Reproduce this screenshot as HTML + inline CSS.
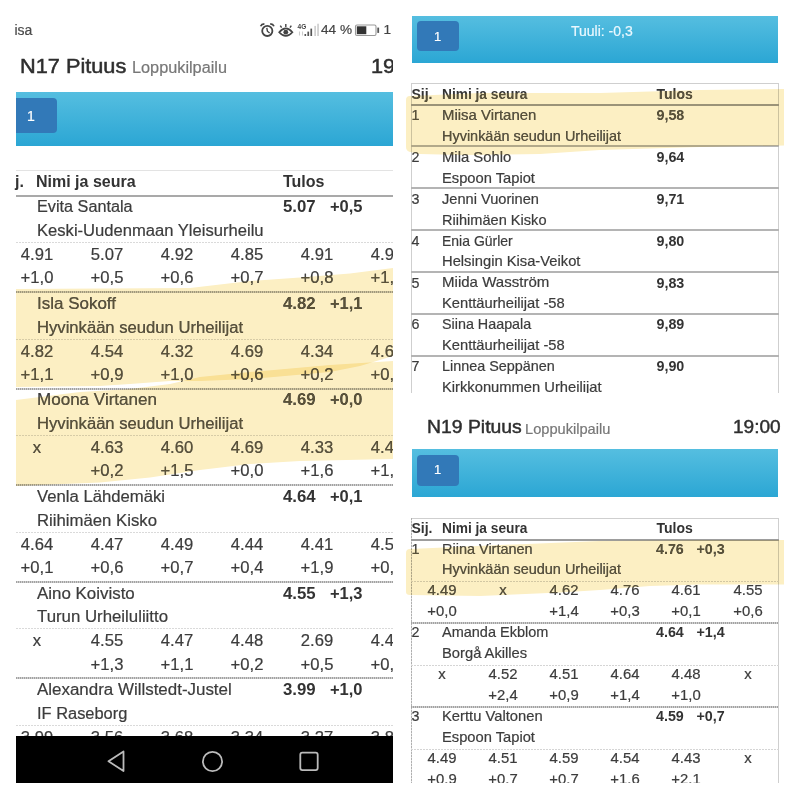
<!DOCTYPE html>
<html><head><meta charset="utf-8"><style>
html,body{margin:0;padding:0;background:#fff;}
body{width:800px;height:800px;position:relative;overflow:hidden;font-family:"Liberation Sans",sans-serif;color:#3c3c3c;}
.t{position:absolute;white-space:nowrap;line-height:1;transform-origin:0 0;-webkit-text-stroke:0.2px currentColor;}
.r{position:absolute;}
.clip{position:absolute;overflow:hidden;}
.hl{left:0;top:0;mix-blend-mode:multiply;pointer-events:none;}
.hl2{left:0;top:0;mix-blend-mode:lighten;pointer-events:none;}
</style></head><body>
<div class="clip" style="left:0px;top:0px;width:393px;height:783px;"><div style="position:absolute;left:0px;top:0px;width:800px;height:800px;">
<div class="t" style="left:14.50px;top:23.10px;font-size:14px;color:#4a4a4a;">isa</div>
<div class="t" style="left:321.00px;top:22.74px;font-size:13.6px;color:#444;">44 %</div>
<div class="t" style="left:383.50px;top:22.74px;font-size:13.6px;color:#444;">1</div>
<svg class="r" style="left:255px;top:18px" width="130" height="22" viewBox="255 18 130 22">
<circle cx="267.3" cy="30.9" r="5.1" fill="none" stroke="#444" stroke-width="1.8"/>
<path d="M266.8 27.8 L267.4 31.2 L269.6 33" fill="none" stroke="#444" stroke-width="1.4"/>
<path d="M260.6 26.2 Q261.5 24 264.4 23.8" fill="none" stroke="#444" stroke-width="1.7"/>
<path d="M274 26.2 Q273.1 24 270.2 23.8" fill="none" stroke="#444" stroke-width="1.7"/>
<path d="M279.2 32.2 Q285.8 24.6 292.4 32.2 Q285.8 39.6 279.2 32.2 Z" fill="none" stroke="#444" stroke-width="1.7"/>
<circle cx="285.8" cy="32.2" r="2.4" fill="#444"/>
<path d="M285.8 24 V27 M280.3 25.6 L281.6 27.6 M291.3 25.6 L290 27.6" stroke="#444" stroke-width="1.4"/>
<text x="297.6" y="28.6" font-family="Liberation Sans" font-weight="700" font-size="6.5" fill="#444">4G</text>
<path d="M299.5 31.5 V35.5 M302.5 31.5 V35.5" stroke="#ccc" stroke-width="1.1"/>
<rect x="304.5" y="34" width="1.6" height="2" fill="#555"/>
<rect x="307.4" y="31.6" width="1.7" height="4.4" fill="#555"/>
<rect x="310.4" y="28.6" width="1.7" height="7.4" fill="#555"/>
<rect x="314.3" y="25.9" width="1.7" height="10.1" fill="#cfcfcf"/>
<rect x="317.2" y="23.7" width="1.7" height="12.3" fill="#cfcfcf"/>
<rect x="355.5" y="25" width="20.5" height="10.5" rx="1.5" fill="none" stroke="#999" stroke-width="1.1"/>
<rect x="356.8" y="26.3" width="9.5" height="7.9" fill="#333"/>
<rect x="377.3" y="27.6" width="1.8" height="5.3" fill="#555"/>
</svg>
<div class="t" style="left:19.80px;top:56.08px;font-size:20.5px;color:#2e2e2e;transform:scaleX(1.06);-webkit-text-stroke:0.5px #2e2e2e;">N17 Pituus</div>
<div class="t" style="left:132.00px;top:60.27px;font-size:15.8px;color:#777;transform:scaleX(1.03);">Loppukilpailu</div>
<div class="t" style="left:371.00px;top:56.08px;font-size:20.5px;color:#2e2e2e;transform:scaleX(1.06);-webkit-text-stroke:0.5px #2e2e2e;">19</div>
<div class="r" style="left:16.00px;top:91.50px;width:377.00px;height:54.50px;background:linear-gradient(#55bee0,#2ba6d4);"></div>
<div class="r" style="left:16.00px;top:97.50px;width:41.00px;height:35.50px;background:#3279b8;border-radius:0 4px 4px 0;"></div>
<div class="t" style="left:27.00px;top:108.70px;font-size:14px;color:#fff;">1</div>
<div class="r" style="left:16.00px;top:169.50px;width:377.00px;height:0;border-top:1px solid #e3e3e3;"></div>
<div class="t" style="left:15.00px;top:174.40px;font-size:16px;font-weight:700;-webkit-text-stroke:0;color:#333;">j.</div>
<div class="t" style="left:36.00px;top:174.40px;font-size:16px;font-weight:700;-webkit-text-stroke:0;color:#333;">Nimi ja seura</div>
<div class="t" style="left:283.00px;top:174.40px;font-size:16px;font-weight:700;-webkit-text-stroke:0;color:#333;">Tulos</div>
<div class="r" style="left:16.00px;top:194.50px;width:377.00px;height:0;border-top:2px solid #a9a9a9;"></div>
<div class="t" style="left:36.50px;top:199.10px;font-size:16px;color:#3c3c3c;transform:scaleX(1.014);">Evita Santala</div>
<div class="t" style="left:36.50px;top:222.90px;font-size:16px;color:#3c3c3c;transform:scaleX(1.037);">Keski-Uudenmaan Yleisurheilu</div>
<div class="t" style="left:283.00px;top:199.10px;font-size:16px;font-weight:700;-webkit-text-stroke:0;color:#333;transform:scaleX(1.05);">5.07</div>
<div class="t" style="left:329.50px;top:199.10px;font-size:16px;font-weight:700;-webkit-text-stroke:0;color:#333;transform:scaleX(1.03);">+0,5</div>
<div class="r" style="left:16.00px;top:242.00px;width:377.00px;height:1.00px;background:repeating-linear-gradient(90deg,#dadada 0 2px,transparent 2px 3px);"></div>
<div class="t" style="left:-13.50px;top:246.90px;width:100px;text-align:center;font-size:16px;transform:scaleX(1.04);transform-origin:50% 0;">4.91</div>
<div class="t" style="left:-13.50px;top:270.20px;width:100px;text-align:center;font-size:16px;transform:scaleX(1.04);transform-origin:50% 0;">+1,0</div>
<div class="t" style="left:56.50px;top:246.90px;width:100px;text-align:center;font-size:16px;transform:scaleX(1.04);transform-origin:50% 0;">5.07</div>
<div class="t" style="left:56.50px;top:270.20px;width:100px;text-align:center;font-size:16px;transform:scaleX(1.04);transform-origin:50% 0;">+0,5</div>
<div class="t" style="left:126.50px;top:246.90px;width:100px;text-align:center;font-size:16px;transform:scaleX(1.04);transform-origin:50% 0;">4.92</div>
<div class="t" style="left:126.50px;top:270.20px;width:100px;text-align:center;font-size:16px;transform:scaleX(1.04);transform-origin:50% 0;">+0,6</div>
<div class="t" style="left:196.50px;top:246.90px;width:100px;text-align:center;font-size:16px;transform:scaleX(1.04);transform-origin:50% 0;">4.85</div>
<div class="t" style="left:196.50px;top:270.20px;width:100px;text-align:center;font-size:16px;transform:scaleX(1.04);transform-origin:50% 0;">+0,7</div>
<div class="t" style="left:266.50px;top:246.90px;width:100px;text-align:center;font-size:16px;transform:scaleX(1.04);transform-origin:50% 0;">4.91</div>
<div class="t" style="left:266.50px;top:270.20px;width:100px;text-align:center;font-size:16px;transform:scaleX(1.04);transform-origin:50% 0;">+0,8</div>
<div class="t" style="left:336.50px;top:246.90px;width:100px;text-align:center;font-size:16px;transform:scaleX(1.04);transform-origin:50% 0;">4.91</div>
<div class="t" style="left:336.50px;top:270.20px;width:100px;text-align:center;font-size:16px;transform:scaleX(1.04);transform-origin:50% 0;">+1,0</div>
<div class="r" style="left:16.00px;top:291.00px;width:377.00px;height:2.00px;background:repeating-linear-gradient(90deg,#a2a2a2 0 1px,#cfcfcf 1px 2px);"></div>
<div class="t" style="left:36.50px;top:295.70px;font-size:16px;color:#3c3c3c;transform:scaleX(1.061);">Isla Sokoff</div>
<div class="t" style="left:36.50px;top:319.50px;font-size:16px;color:#3c3c3c;transform:scaleX(1.039);">Hyvinkään seudun Urheilijat</div>
<div class="t" style="left:283.00px;top:295.70px;font-size:16px;font-weight:700;-webkit-text-stroke:0;color:#333;transform:scaleX(1.05);">4.82</div>
<div class="t" style="left:329.50px;top:295.70px;font-size:16px;font-weight:700;-webkit-text-stroke:0;color:#333;transform:scaleX(1.03);">+1,1</div>
<div class="r" style="left:16.00px;top:338.60px;width:377.00px;height:1.00px;background:repeating-linear-gradient(90deg,#dadada 0 2px,transparent 2px 3px);"></div>
<div class="t" style="left:-13.50px;top:343.50px;width:100px;text-align:center;font-size:16px;transform:scaleX(1.04);transform-origin:50% 0;">4.82</div>
<div class="t" style="left:-13.50px;top:366.80px;width:100px;text-align:center;font-size:16px;transform:scaleX(1.04);transform-origin:50% 0;">+1,1</div>
<div class="t" style="left:56.50px;top:343.50px;width:100px;text-align:center;font-size:16px;transform:scaleX(1.04);transform-origin:50% 0;">4.54</div>
<div class="t" style="left:56.50px;top:366.80px;width:100px;text-align:center;font-size:16px;transform:scaleX(1.04);transform-origin:50% 0;">+0,9</div>
<div class="t" style="left:126.50px;top:343.50px;width:100px;text-align:center;font-size:16px;transform:scaleX(1.04);transform-origin:50% 0;">4.32</div>
<div class="t" style="left:126.50px;top:366.80px;width:100px;text-align:center;font-size:16px;transform:scaleX(1.04);transform-origin:50% 0;">+1,0</div>
<div class="t" style="left:196.50px;top:343.50px;width:100px;text-align:center;font-size:16px;transform:scaleX(1.04);transform-origin:50% 0;">4.69</div>
<div class="t" style="left:196.50px;top:366.80px;width:100px;text-align:center;font-size:16px;transform:scaleX(1.04);transform-origin:50% 0;">+0,6</div>
<div class="t" style="left:266.50px;top:343.50px;width:100px;text-align:center;font-size:16px;transform:scaleX(1.04);transform-origin:50% 0;">4.34</div>
<div class="t" style="left:266.50px;top:366.80px;width:100px;text-align:center;font-size:16px;transform:scaleX(1.04);transform-origin:50% 0;">+0,2</div>
<div class="t" style="left:336.50px;top:343.50px;width:100px;text-align:center;font-size:16px;transform:scaleX(1.04);transform-origin:50% 0;">4.69</div>
<div class="t" style="left:336.50px;top:366.80px;width:100px;text-align:center;font-size:16px;transform:scaleX(1.04);transform-origin:50% 0;">+0,2</div>
<div class="r" style="left:16.00px;top:387.60px;width:377.00px;height:2.00px;background:repeating-linear-gradient(90deg,#a2a2a2 0 1px,#cfcfcf 1px 2px);"></div>
<div class="t" style="left:36.50px;top:392.30px;font-size:16px;color:#3c3c3c;transform:scaleX(1.065);">Moona Virtanen</div>
<div class="t" style="left:36.50px;top:416.10px;font-size:16px;color:#3c3c3c;transform:scaleX(1.039);">Hyvinkään seudun Urheilijat</div>
<div class="t" style="left:283.00px;top:392.30px;font-size:16px;font-weight:700;-webkit-text-stroke:0;color:#333;transform:scaleX(1.05);">4.69</div>
<div class="t" style="left:329.50px;top:392.30px;font-size:16px;font-weight:700;-webkit-text-stroke:0;color:#333;transform:scaleX(1.03);">+0,0</div>
<div class="r" style="left:16.00px;top:435.20px;width:377.00px;height:1.00px;background:repeating-linear-gradient(90deg,#dadada 0 2px,transparent 2px 3px);"></div>
<div class="t" style="left:-13.50px;top:440.10px;width:100px;text-align:center;font-size:16px;transform:scaleX(1.04);transform-origin:50% 0;">x</div>
<div class="t" style="left:-13.50px;top:463.40px;width:100px;text-align:center;font-size:16px;transform:scaleX(1.04);transform-origin:50% 0;"></div>
<div class="t" style="left:56.50px;top:440.10px;width:100px;text-align:center;font-size:16px;transform:scaleX(1.04);transform-origin:50% 0;">4.63</div>
<div class="t" style="left:56.50px;top:463.40px;width:100px;text-align:center;font-size:16px;transform:scaleX(1.04);transform-origin:50% 0;">+0,2</div>
<div class="t" style="left:126.50px;top:440.10px;width:100px;text-align:center;font-size:16px;transform:scaleX(1.04);transform-origin:50% 0;">4.60</div>
<div class="t" style="left:126.50px;top:463.40px;width:100px;text-align:center;font-size:16px;transform:scaleX(1.04);transform-origin:50% 0;">+1,5</div>
<div class="t" style="left:196.50px;top:440.10px;width:100px;text-align:center;font-size:16px;transform:scaleX(1.04);transform-origin:50% 0;">4.69</div>
<div class="t" style="left:196.50px;top:463.40px;width:100px;text-align:center;font-size:16px;transform:scaleX(1.04);transform-origin:50% 0;">+0,0</div>
<div class="t" style="left:266.50px;top:440.10px;width:100px;text-align:center;font-size:16px;transform:scaleX(1.04);transform-origin:50% 0;">4.33</div>
<div class="t" style="left:266.50px;top:463.40px;width:100px;text-align:center;font-size:16px;transform:scaleX(1.04);transform-origin:50% 0;">+1,6</div>
<div class="t" style="left:336.50px;top:440.10px;width:100px;text-align:center;font-size:16px;transform:scaleX(1.04);transform-origin:50% 0;">4.45</div>
<div class="t" style="left:336.50px;top:463.40px;width:100px;text-align:center;font-size:16px;transform:scaleX(1.04);transform-origin:50% 0;">+1,2</div>
<div class="r" style="left:16.00px;top:484.20px;width:377.00px;height:2.00px;background:repeating-linear-gradient(90deg,#a2a2a2 0 1px,#cfcfcf 1px 2px);"></div>
<div class="t" style="left:36.50px;top:488.90px;font-size:16px;color:#3c3c3c;transform:scaleX(1.043);">Venla Lähdemäki</div>
<div class="t" style="left:36.50px;top:512.70px;font-size:16px;color:#3c3c3c;transform:scaleX(1.046);">Riihimäen Kisko</div>
<div class="t" style="left:283.00px;top:488.90px;font-size:16px;font-weight:700;-webkit-text-stroke:0;color:#333;transform:scaleX(1.05);">4.64</div>
<div class="t" style="left:329.50px;top:488.90px;font-size:16px;font-weight:700;-webkit-text-stroke:0;color:#333;transform:scaleX(1.03);">+0,1</div>
<div class="r" style="left:16.00px;top:531.80px;width:377.00px;height:1.00px;background:repeating-linear-gradient(90deg,#dadada 0 2px,transparent 2px 3px);"></div>
<div class="t" style="left:-13.50px;top:536.70px;width:100px;text-align:center;font-size:16px;transform:scaleX(1.04);transform-origin:50% 0;">4.64</div>
<div class="t" style="left:-13.50px;top:560.00px;width:100px;text-align:center;font-size:16px;transform:scaleX(1.04);transform-origin:50% 0;">+0,1</div>
<div class="t" style="left:56.50px;top:536.70px;width:100px;text-align:center;font-size:16px;transform:scaleX(1.04);transform-origin:50% 0;">4.47</div>
<div class="t" style="left:56.50px;top:560.00px;width:100px;text-align:center;font-size:16px;transform:scaleX(1.04);transform-origin:50% 0;">+0,6</div>
<div class="t" style="left:126.50px;top:536.70px;width:100px;text-align:center;font-size:16px;transform:scaleX(1.04);transform-origin:50% 0;">4.49</div>
<div class="t" style="left:126.50px;top:560.00px;width:100px;text-align:center;font-size:16px;transform:scaleX(1.04);transform-origin:50% 0;">+0,7</div>
<div class="t" style="left:196.50px;top:536.70px;width:100px;text-align:center;font-size:16px;transform:scaleX(1.04);transform-origin:50% 0;">4.44</div>
<div class="t" style="left:196.50px;top:560.00px;width:100px;text-align:center;font-size:16px;transform:scaleX(1.04);transform-origin:50% 0;">+0,4</div>
<div class="t" style="left:266.50px;top:536.70px;width:100px;text-align:center;font-size:16px;transform:scaleX(1.04);transform-origin:50% 0;">4.41</div>
<div class="t" style="left:266.50px;top:560.00px;width:100px;text-align:center;font-size:16px;transform:scaleX(1.04);transform-origin:50% 0;">+1,9</div>
<div class="t" style="left:336.50px;top:536.70px;width:100px;text-align:center;font-size:16px;transform:scaleX(1.04);transform-origin:50% 0;">4.52</div>
<div class="t" style="left:336.50px;top:560.00px;width:100px;text-align:center;font-size:16px;transform:scaleX(1.04);transform-origin:50% 0;">+0,3</div>
<div class="r" style="left:16.00px;top:580.80px;width:377.00px;height:2.00px;background:repeating-linear-gradient(90deg,#a2a2a2 0 1px,#cfcfcf 1px 2px);"></div>
<div class="t" style="left:36.50px;top:585.50px;font-size:16px;color:#3c3c3c;transform:scaleX(1.057);">Aino Koivisto</div>
<div class="t" style="left:36.50px;top:609.30px;font-size:16px;color:#3c3c3c;transform:scaleX(1.05);">Turun Urheiluliitto</div>
<div class="t" style="left:283.00px;top:585.50px;font-size:16px;font-weight:700;-webkit-text-stroke:0;color:#333;transform:scaleX(1.05);">4.55</div>
<div class="t" style="left:329.50px;top:585.50px;font-size:16px;font-weight:700;-webkit-text-stroke:0;color:#333;transform:scaleX(1.03);">+1,3</div>
<div class="r" style="left:16.00px;top:628.40px;width:377.00px;height:1.00px;background:repeating-linear-gradient(90deg,#dadada 0 2px,transparent 2px 3px);"></div>
<div class="t" style="left:-13.50px;top:633.30px;width:100px;text-align:center;font-size:16px;transform:scaleX(1.04);transform-origin:50% 0;">x</div>
<div class="t" style="left:-13.50px;top:656.60px;width:100px;text-align:center;font-size:16px;transform:scaleX(1.04);transform-origin:50% 0;"></div>
<div class="t" style="left:56.50px;top:633.30px;width:100px;text-align:center;font-size:16px;transform:scaleX(1.04);transform-origin:50% 0;">4.55</div>
<div class="t" style="left:56.50px;top:656.60px;width:100px;text-align:center;font-size:16px;transform:scaleX(1.04);transform-origin:50% 0;">+1,3</div>
<div class="t" style="left:126.50px;top:633.30px;width:100px;text-align:center;font-size:16px;transform:scaleX(1.04);transform-origin:50% 0;">4.47</div>
<div class="t" style="left:126.50px;top:656.60px;width:100px;text-align:center;font-size:16px;transform:scaleX(1.04);transform-origin:50% 0;">+1,1</div>
<div class="t" style="left:196.50px;top:633.30px;width:100px;text-align:center;font-size:16px;transform:scaleX(1.04);transform-origin:50% 0;">4.48</div>
<div class="t" style="left:196.50px;top:656.60px;width:100px;text-align:center;font-size:16px;transform:scaleX(1.04);transform-origin:50% 0;">+0,2</div>
<div class="t" style="left:266.50px;top:633.30px;width:100px;text-align:center;font-size:16px;transform:scaleX(1.04);transform-origin:50% 0;">2.69</div>
<div class="t" style="left:266.50px;top:656.60px;width:100px;text-align:center;font-size:16px;transform:scaleX(1.04);transform-origin:50% 0;">+0,5</div>
<div class="t" style="left:336.50px;top:633.30px;width:100px;text-align:center;font-size:16px;transform:scaleX(1.04);transform-origin:50% 0;">4.40</div>
<div class="t" style="left:336.50px;top:656.60px;width:100px;text-align:center;font-size:16px;transform:scaleX(1.04);transform-origin:50% 0;">+0,4</div>
<div class="r" style="left:16.00px;top:677.40px;width:377.00px;height:2.00px;background:repeating-linear-gradient(90deg,#a2a2a2 0 1px,#cfcfcf 1px 2px);"></div>
<div class="t" style="left:36.50px;top:682.10px;font-size:16px;color:#3c3c3c;transform:scaleX(1.058);">Alexandra Willstedt-Justel</div>
<div class="t" style="left:36.50px;top:705.90px;font-size:16px;color:#3c3c3c;transform:scaleX(1.026);">IF Raseborg</div>
<div class="t" style="left:283.00px;top:682.10px;font-size:16px;font-weight:700;-webkit-text-stroke:0;color:#333;transform:scaleX(1.05);">3.99</div>
<div class="t" style="left:329.50px;top:682.10px;font-size:16px;font-weight:700;-webkit-text-stroke:0;color:#333;transform:scaleX(1.03);">+1,0</div>
<div class="r" style="left:16.00px;top:725.00px;width:377.00px;height:1.00px;background:repeating-linear-gradient(90deg,#dadada 0 2px,transparent 2px 3px);"></div>
<div class="t" style="left:-13.50px;top:729.90px;width:100px;text-align:center;font-size:16px;transform:scaleX(1.04);transform-origin:50% 0;">3.99</div>
<div class="t" style="left:-13.50px;top:753.20px;width:100px;text-align:center;font-size:16px;transform:scaleX(1.04);transform-origin:50% 0;">+1,0</div>
<div class="t" style="left:56.50px;top:729.90px;width:100px;text-align:center;font-size:16px;transform:scaleX(1.04);transform-origin:50% 0;">3.56</div>
<div class="t" style="left:56.50px;top:753.20px;width:100px;text-align:center;font-size:16px;transform:scaleX(1.04);transform-origin:50% 0;">+0,5</div>
<div class="t" style="left:126.50px;top:729.90px;width:100px;text-align:center;font-size:16px;transform:scaleX(1.04);transform-origin:50% 0;">3.68</div>
<div class="t" style="left:126.50px;top:753.20px;width:100px;text-align:center;font-size:16px;transform:scaleX(1.04);transform-origin:50% 0;">+0,6</div>
<div class="t" style="left:196.50px;top:729.90px;width:100px;text-align:center;font-size:16px;transform:scaleX(1.04);transform-origin:50% 0;">3.34</div>
<div class="t" style="left:196.50px;top:753.20px;width:100px;text-align:center;font-size:16px;transform:scaleX(1.04);transform-origin:50% 0;">+0,7</div>
<div class="t" style="left:266.50px;top:729.90px;width:100px;text-align:center;font-size:16px;transform:scaleX(1.04);transform-origin:50% 0;">3.27</div>
<div class="t" style="left:266.50px;top:753.20px;width:100px;text-align:center;font-size:16px;transform:scaleX(1.04);transform-origin:50% 0;">+0,8</div>
<div class="t" style="left:336.50px;top:729.90px;width:100px;text-align:center;font-size:16px;transform:scaleX(1.04);transform-origin:50% 0;">3.80</div>
<div class="t" style="left:336.50px;top:753.20px;width:100px;text-align:center;font-size:16px;transform:scaleX(1.04);transform-origin:50% 0;">+1,0</div>
<div class="r" style="left:16.00px;top:736.00px;width:377.00px;height:47.00px;background:#000;"></div>
<svg class="r" style="left:16px;top:736px" width="377" height="47" viewBox="16 736 377 47">
<path d="M123.5 751.5 L108.5 761.3 L123.5 771 Z" fill="none" stroke="#bbb" stroke-width="1.8" stroke-linejoin="round"/>
<circle cx="212.5" cy="761.5" r="9.6" fill="none" stroke="#bbb" stroke-width="1.8"/>
<rect x="300.3" y="752.7" width="17.4" height="17.4" rx="2" fill="none" stroke="#bbb" stroke-width="1.8"/>
</svg>
</div></div>
<div class="clip" style="left:400px;top:0px;width:400px;height:393px;"><div style="position:absolute;left:-400px;top:0px;width:800px;height:800px;">
<div class="r" style="left:412.00px;top:15.60px;width:366.00px;height:47.00px;background:linear-gradient(#55bee0,#2ba6d4);"></div>
<div class="r" style="left:417.00px;top:20.60px;width:42.00px;height:30.70px;background:#3279b8;border-radius:4px;"></div>
<div class="t" style="left:434.00px;top:29.55px;font-size:13px;color:#fff;">1</div>
<div class="t" style="left:571.00px;top:23.60px;font-size:14px;color:#eaf8ff;">Tuuli: -0,3</div>
<div class="r" style="left:411.25px;top:83.00px;width:367.75px;height:320.00px;background:transparent;border:1px solid #cfcfcf;box-sizing:border-box;"></div>
<div class="t" style="left:411.50px;top:87.40px;font-size:14px;font-weight:700;-webkit-text-stroke:0;color:#333;">Sij.</div>
<div class="t" style="left:442.00px;top:87.40px;font-size:14px;font-weight:700;-webkit-text-stroke:0;color:#333;transform:scaleX(0.98);">Nimi ja seura</div>
<div class="t" style="left:656.50px;top:87.40px;font-size:14px;font-weight:700;-webkit-text-stroke:0;color:#333;">Tulos</div>
<div class="r" style="left:411.25px;top:103.50px;width:367.75px;height:0;border-top:2px solid #9d9d9d;"></div>
<div class="t" style="left:411.50px;top:107.95px;font-size:14.3px;color:#3c3c3c;">1</div>
<div class="t" style="left:442.00px;top:107.86px;font-size:14.4px;color:#3c3c3c;transform:scaleX(1.037);">Miisa Virtanen</div>
<div class="t" style="left:442.00px;top:128.76px;font-size:14.4px;color:#3c3c3c;transform:scaleX(1.004);">Hyvinkään seudun Urheilijat</div>
<div class="t" style="left:656.50px;top:107.95px;font-size:14.3px;font-weight:700;-webkit-text-stroke:0;color:#333;">9,58</div>
<div class="r" style="left:411.25px;top:145.40px;width:367.75px;height:0;border-top:2px solid #b4b4b4;"></div>
<div class="t" style="left:411.50px;top:149.84px;font-size:14.3px;color:#3c3c3c;">2</div>
<div class="t" style="left:442.00px;top:149.76px;font-size:14.4px;color:#3c3c3c;transform:scaleX(1.03);">Mila Sohlo</div>
<div class="t" style="left:442.00px;top:170.66px;font-size:14.4px;color:#3c3c3c;transform:scaleX(1.022);">Espoon Tapiot</div>
<div class="t" style="left:656.50px;top:149.84px;font-size:14.3px;font-weight:700;-webkit-text-stroke:0;color:#333;">9,64</div>
<div class="r" style="left:411.25px;top:187.30px;width:367.75px;height:0;border-top:2px solid #b4b4b4;"></div>
<div class="t" style="left:411.50px;top:191.74px;font-size:14.3px;color:#3c3c3c;">3</div>
<div class="t" style="left:442.00px;top:191.66px;font-size:14.4px;color:#3c3c3c;transform:scaleX(1.016);">Jenni Vuorinen</div>
<div class="t" style="left:442.00px;top:212.56px;font-size:14.4px;color:#3c3c3c;transform:scaleX(1.013);">Riihimäen Kisko</div>
<div class="t" style="left:656.50px;top:191.74px;font-size:14.3px;font-weight:700;-webkit-text-stroke:0;color:#333;">9,71</div>
<div class="r" style="left:411.25px;top:229.20px;width:367.75px;height:0;border-top:2px solid #b4b4b4;"></div>
<div class="t" style="left:411.50px;top:233.64px;font-size:14.3px;color:#3c3c3c;">4</div>
<div class="t" style="left:442.00px;top:233.56px;font-size:14.4px;color:#3c3c3c;transform:scaleX(0.972);">Enia Gürler</div>
<div class="t" style="left:442.00px;top:254.46px;font-size:14.4px;color:#3c3c3c;transform:scaleX(1.024);">Helsingin Kisa-Veikot</div>
<div class="t" style="left:656.50px;top:233.64px;font-size:14.3px;font-weight:700;-webkit-text-stroke:0;color:#333;">9,80</div>
<div class="r" style="left:411.25px;top:271.10px;width:367.75px;height:0;border-top:2px solid #b4b4b4;"></div>
<div class="t" style="left:411.50px;top:275.54px;font-size:14.3px;color:#3c3c3c;">5</div>
<div class="t" style="left:442.00px;top:275.46px;font-size:14.4px;color:#3c3c3c;transform:scaleX(1.046);">Miida Wasström</div>
<div class="t" style="left:442.00px;top:296.36px;font-size:14.4px;color:#3c3c3c;transform:scaleX(1.022);">Kenttäurheilijat -58</div>
<div class="t" style="left:656.50px;top:275.54px;font-size:14.3px;font-weight:700;-webkit-text-stroke:0;color:#333;">9,83</div>
<div class="r" style="left:411.25px;top:313.00px;width:367.75px;height:0;border-top:2px solid #b4b4b4;"></div>
<div class="t" style="left:411.50px;top:317.44px;font-size:14.3px;color:#3c3c3c;">6</div>
<div class="t" style="left:442.00px;top:317.36px;font-size:14.4px;color:#3c3c3c;transform:scaleX(0.996);">Siina Haapala</div>
<div class="t" style="left:442.00px;top:338.26px;font-size:14.4px;color:#3c3c3c;transform:scaleX(1.022);">Kenttäurheilijat -58</div>
<div class="t" style="left:656.50px;top:317.44px;font-size:14.3px;font-weight:700;-webkit-text-stroke:0;color:#333;">9,89</div>
<div class="r" style="left:411.25px;top:354.90px;width:367.75px;height:0;border-top:2px solid #b4b4b4;"></div>
<div class="t" style="left:411.50px;top:359.34px;font-size:14.3px;color:#3c3c3c;">7</div>
<div class="t" style="left:442.00px;top:359.26px;font-size:14.4px;color:#3c3c3c;">Linnea Seppänen</div>
<div class="t" style="left:442.00px;top:380.16px;font-size:14.4px;color:#3c3c3c;transform:scaleX(1.023);">Kirkkonummen Urheilijat</div>
<div class="t" style="left:656.50px;top:359.34px;font-size:14.3px;font-weight:700;-webkit-text-stroke:0;color:#333;">9,90</div>
</div></div>
<div class="clip" style="left:400px;top:395px;width:400px;height:388px;"><div style="position:absolute;left:-400px;top:-395px;width:800px;height:800px;">
<div class="t" style="left:427.00px;top:418.11px;font-size:18.7px;color:#2e2e2e;transform:scaleX(1.037);-webkit-text-stroke:0.45px #2e2e2e;">N19 Pituus</div>
<div class="t" style="left:525.00px;top:421.93px;font-size:14.2px;color:#777;transform:scaleX(1.03);">Loppukilpailu</div>
<div class="t" style="left:732.50px;top:418.11px;font-size:18.7px;color:#2e2e2e;transform:scaleX(1.02);-webkit-text-stroke:0.45px #2e2e2e;">19:00</div>
<div class="r" style="left:411.60px;top:449.00px;width:366.70px;height:48.00px;background:linear-gradient(#55bee0,#2ba6d4);"></div>
<div class="r" style="left:417.00px;top:455.00px;width:42.40px;height:30.60px;background:#3279b8;border-radius:4px;"></div>
<div class="t" style="left:434.00px;top:463.35px;font-size:13px;color:#fff;">1</div>
<div class="r" style="left:411.25px;top:517.50px;width:367.75px;height:300.00px;background:transparent;border:1px solid #cfcfcf;border-left:none;box-sizing:border-box;"></div>
<div class="r" style="left:411.25px;top:517.50px;width:1.00px;height:300.00px;background:repeating-linear-gradient(180deg,#b0b0b0 0 2px,#e0e0e0 2px 3px);"></div>
<div class="t" style="left:411.50px;top:520.60px;font-size:14px;font-weight:700;-webkit-text-stroke:0;color:#333;">Sij.</div>
<div class="t" style="left:442.00px;top:520.60px;font-size:14px;font-weight:700;-webkit-text-stroke:0;color:#333;transform:scaleX(0.98);">Nimi ja seura</div>
<div class="t" style="left:656.50px;top:520.60px;font-size:14px;font-weight:700;-webkit-text-stroke:0;color:#333;">Tulos</div>
<div class="r" style="left:411.25px;top:538.50px;width:367.75px;height:0;border-top:2px solid #9d9d9d;"></div>
<div class="t" style="left:411.50px;top:541.60px;font-size:14.3px;color:#3c3c3c;">1</div>
<div class="t" style="left:442.00px;top:541.51px;font-size:14.4px;color:#3c3c3c;transform:scaleX(1.006);">Riina Virtanen</div>
<div class="t" style="left:442.00px;top:562.26px;font-size:14.4px;color:#3c3c3c;transform:scaleX(1.004);">Hyvinkään seudun Urheilijat</div>
<div class="t" style="left:656.00px;top:541.60px;font-size:14.3px;font-weight:700;-webkit-text-stroke:0;color:#333;">4.76</div>
<div class="t" style="left:696.50px;top:541.60px;font-size:14.3px;font-weight:700;-webkit-text-stroke:0;color:#333;">+0,3</div>
<div class="r" style="left:411.25px;top:581.25px;width:367.75px;height:1.00px;background:repeating-linear-gradient(90deg,#d5d5d5 0 2px,transparent 2px 3px);"></div>
<div class="t" style="left:392.00px;top:583.35px;width:100px;text-align:center;font-size:14.3px;transform:scaleX(1.04);transform-origin:50% 0;">4.49</div>
<div class="t" style="left:392.00px;top:604.10px;width:100px;text-align:center;font-size:14.3px;transform:scaleX(1.04);transform-origin:50% 0;">+0,0</div>
<div class="t" style="left:453.10px;top:583.35px;width:100px;text-align:center;font-size:14.3px;transform:scaleX(1.04);transform-origin:50% 0;">x</div>
<div class="t" style="left:453.10px;top:604.10px;width:100px;text-align:center;font-size:14.3px;transform:scaleX(1.04);transform-origin:50% 0;"></div>
<div class="t" style="left:514.20px;top:583.35px;width:100px;text-align:center;font-size:14.3px;transform:scaleX(1.04);transform-origin:50% 0;">4.62</div>
<div class="t" style="left:514.20px;top:604.10px;width:100px;text-align:center;font-size:14.3px;transform:scaleX(1.04);transform-origin:50% 0;">+1,4</div>
<div class="t" style="left:575.30px;top:583.35px;width:100px;text-align:center;font-size:14.3px;transform:scaleX(1.04);transform-origin:50% 0;">4.76</div>
<div class="t" style="left:575.30px;top:604.10px;width:100px;text-align:center;font-size:14.3px;transform:scaleX(1.04);transform-origin:50% 0;">+0,3</div>
<div class="t" style="left:636.40px;top:583.35px;width:100px;text-align:center;font-size:14.3px;transform:scaleX(1.04);transform-origin:50% 0;">4.61</div>
<div class="t" style="left:636.40px;top:604.10px;width:100px;text-align:center;font-size:14.3px;transform:scaleX(1.04);transform-origin:50% 0;">+0,1</div>
<div class="t" style="left:697.50px;top:583.35px;width:100px;text-align:center;font-size:14.3px;transform:scaleX(1.04);transform-origin:50% 0;">4.55</div>
<div class="t" style="left:697.50px;top:604.10px;width:100px;text-align:center;font-size:14.3px;transform:scaleX(1.04);transform-origin:50% 0;">+0,6</div>
<div class="r" style="left:411.25px;top:621.75px;width:367.75px;height:2.00px;background:repeating-linear-gradient(90deg,#a2a2a2 0 1px,#cfcfcf 1px 2px);"></div>
<div class="t" style="left:411.50px;top:625.35px;font-size:14.3px;color:#3c3c3c;">2</div>
<div class="t" style="left:442.00px;top:625.26px;font-size:14.4px;color:#3c3c3c;transform:scaleX(1.007);">Amanda Ekblom</div>
<div class="t" style="left:442.00px;top:646.01px;font-size:14.4px;color:#3c3c3c;transform:scaleX(1.024);">Borgå Akilles</div>
<div class="t" style="left:656.00px;top:625.35px;font-size:14.3px;font-weight:700;-webkit-text-stroke:0;color:#333;">4.64</div>
<div class="t" style="left:696.50px;top:625.35px;font-size:14.3px;font-weight:700;-webkit-text-stroke:0;color:#333;">+1,4</div>
<div class="r" style="left:411.25px;top:665.00px;width:367.75px;height:1.00px;background:repeating-linear-gradient(90deg,#d5d5d5 0 2px,transparent 2px 3px);"></div>
<div class="t" style="left:392.00px;top:667.10px;width:100px;text-align:center;font-size:14.3px;transform:scaleX(1.04);transform-origin:50% 0;">x</div>
<div class="t" style="left:392.00px;top:687.85px;width:100px;text-align:center;font-size:14.3px;transform:scaleX(1.04);transform-origin:50% 0;"></div>
<div class="t" style="left:453.10px;top:667.10px;width:100px;text-align:center;font-size:14.3px;transform:scaleX(1.04);transform-origin:50% 0;">4.52</div>
<div class="t" style="left:453.10px;top:687.85px;width:100px;text-align:center;font-size:14.3px;transform:scaleX(1.04);transform-origin:50% 0;">+2,4</div>
<div class="t" style="left:514.20px;top:667.10px;width:100px;text-align:center;font-size:14.3px;transform:scaleX(1.04);transform-origin:50% 0;">4.51</div>
<div class="t" style="left:514.20px;top:687.85px;width:100px;text-align:center;font-size:14.3px;transform:scaleX(1.04);transform-origin:50% 0;">+0,9</div>
<div class="t" style="left:575.30px;top:667.10px;width:100px;text-align:center;font-size:14.3px;transform:scaleX(1.04);transform-origin:50% 0;">4.64</div>
<div class="t" style="left:575.30px;top:687.85px;width:100px;text-align:center;font-size:14.3px;transform:scaleX(1.04);transform-origin:50% 0;">+1,4</div>
<div class="t" style="left:636.40px;top:667.10px;width:100px;text-align:center;font-size:14.3px;transform:scaleX(1.04);transform-origin:50% 0;">4.48</div>
<div class="t" style="left:636.40px;top:687.85px;width:100px;text-align:center;font-size:14.3px;transform:scaleX(1.04);transform-origin:50% 0;">+1,0</div>
<div class="t" style="left:697.50px;top:667.10px;width:100px;text-align:center;font-size:14.3px;transform:scaleX(1.04);transform-origin:50% 0;">x</div>
<div class="t" style="left:697.50px;top:687.85px;width:100px;text-align:center;font-size:14.3px;transform:scaleX(1.04);transform-origin:50% 0;"></div>
<div class="r" style="left:411.25px;top:705.50px;width:367.75px;height:2.00px;background:repeating-linear-gradient(90deg,#a2a2a2 0 1px,#cfcfcf 1px 2px);"></div>
<div class="t" style="left:411.50px;top:709.10px;font-size:14.3px;color:#3c3c3c;">3</div>
<div class="t" style="left:442.00px;top:709.01px;font-size:14.4px;color:#3c3c3c;transform:scaleX(1.026);">Kerttu Valtonen</div>
<div class="t" style="left:442.00px;top:729.76px;font-size:14.4px;color:#3c3c3c;transform:scaleX(1.022);">Espoon Tapiot</div>
<div class="t" style="left:656.00px;top:709.10px;font-size:14.3px;font-weight:700;-webkit-text-stroke:0;color:#333;">4.59</div>
<div class="t" style="left:696.50px;top:709.10px;font-size:14.3px;font-weight:700;-webkit-text-stroke:0;color:#333;">+0,7</div>
<div class="r" style="left:411.25px;top:748.75px;width:367.75px;height:1.00px;background:repeating-linear-gradient(90deg,#d5d5d5 0 2px,transparent 2px 3px);"></div>
<div class="t" style="left:392.00px;top:750.85px;width:100px;text-align:center;font-size:14.3px;transform:scaleX(1.04);transform-origin:50% 0;">4.49</div>
<div class="t" style="left:392.00px;top:771.60px;width:100px;text-align:center;font-size:14.3px;transform:scaleX(1.04);transform-origin:50% 0;">+0,9</div>
<div class="t" style="left:453.10px;top:750.85px;width:100px;text-align:center;font-size:14.3px;transform:scaleX(1.04);transform-origin:50% 0;">4.51</div>
<div class="t" style="left:453.10px;top:771.60px;width:100px;text-align:center;font-size:14.3px;transform:scaleX(1.04);transform-origin:50% 0;">+0,7</div>
<div class="t" style="left:514.20px;top:750.85px;width:100px;text-align:center;font-size:14.3px;transform:scaleX(1.04);transform-origin:50% 0;">4.59</div>
<div class="t" style="left:514.20px;top:771.60px;width:100px;text-align:center;font-size:14.3px;transform:scaleX(1.04);transform-origin:50% 0;">+0,7</div>
<div class="t" style="left:575.30px;top:750.85px;width:100px;text-align:center;font-size:14.3px;transform:scaleX(1.04);transform-origin:50% 0;">4.54</div>
<div class="t" style="left:575.30px;top:771.60px;width:100px;text-align:center;font-size:14.3px;transform:scaleX(1.04);transform-origin:50% 0;">+1,6</div>
<div class="t" style="left:636.40px;top:750.85px;width:100px;text-align:center;font-size:14.3px;transform:scaleX(1.04);transform-origin:50% 0;">4.43</div>
<div class="t" style="left:636.40px;top:771.60px;width:100px;text-align:center;font-size:14.3px;transform:scaleX(1.04);transform-origin:50% 0;">+2,1</div>
<div class="t" style="left:697.50px;top:750.85px;width:100px;text-align:center;font-size:14.3px;transform:scaleX(1.04);transform-origin:50% 0;">x</div>
<div class="t" style="left:697.50px;top:771.60px;width:100px;text-align:center;font-size:14.3px;transform:scaleX(1.04);transform-origin:50% 0;"></div>
</div></div>
<svg class="r hl" width="800" height="800" viewBox="0 0 800 800"><path fill="#fcefc3" d="M16 289 L190 288 L250 281 L300 277.5 L350 273.5 L393 268 L393 356 L360 366 L330 372 L250 379 L200 381 L170 381 L130 384 L100 386 L16 387 Z"/></svg>
<svg class="r hl" width="800" height="800" viewBox="0 0 800 800"><path fill="#fcefc3" d="M16 400 L80 392 L130 389 L170 384 L200 377 L250 372 L330 365 L393 361 L393 459 L300 461 L250 464 L200 470 L150 477.5 L100 482.5 L16 486 Z"/></svg>
<svg class="r hl" width="800" height="800" viewBox="0 0 800 800"><path fill="#fcefc3" d="M410 96 Q406 96 406 100 L406 147 Q406 151 410 152 L420 154 L460 155 L540 154 L600 150 L700 147 L784 145.5 L784 89 L700 90 L600 93 L480 93 Z"/></svg>
<svg class="r hl" width="800" height="800" viewBox="0 0 800 800"><path fill="#fcefc3" d="M410 549 Q406 549 406 553 L406 592 Q406 595 410 595 L480 596 L560 592.5 L600 590 L650 586 L700 584.5 L784 584.5 L784 540 L700 540 L600 541 L500 545 Z"/></svg>
<svg class="r hl2" width="800" height="800" viewBox="0 0 800 800"><path fill="#5a5238" d="M16 289 L190 288 L250 281 L300 277.5 L350 273.5 L393 268 L393 356 L360 366 L330 372 L250 379 L200 381 L170 381 L130 384 L100 386 L16 387 Z"/><path fill="#5a5238" d="M16 400 L80 392 L130 389 L170 384 L200 377 L250 372 L330 365 L393 361 L393 459 L300 461 L250 464 L200 470 L150 477.5 L100 482.5 L16 486 Z"/><path fill="#5a5238" d="M410 96 Q406 96 406 100 L406 147 Q406 151 410 152 L420 154 L460 155 L540 154 L600 150 L700 147 L784 145.5 L784 89 L700 90 L600 93 L480 93 Z"/><path fill="#5a5238" d="M410 549 Q406 549 406 553 L406 592 Q406 595 410 595 L480 596 L560 592.5 L600 590 L650 586 L700 584.5 L784 584.5 L784 540 L700 540 L600 541 L500 545 Z"/></svg>
</body></html>
